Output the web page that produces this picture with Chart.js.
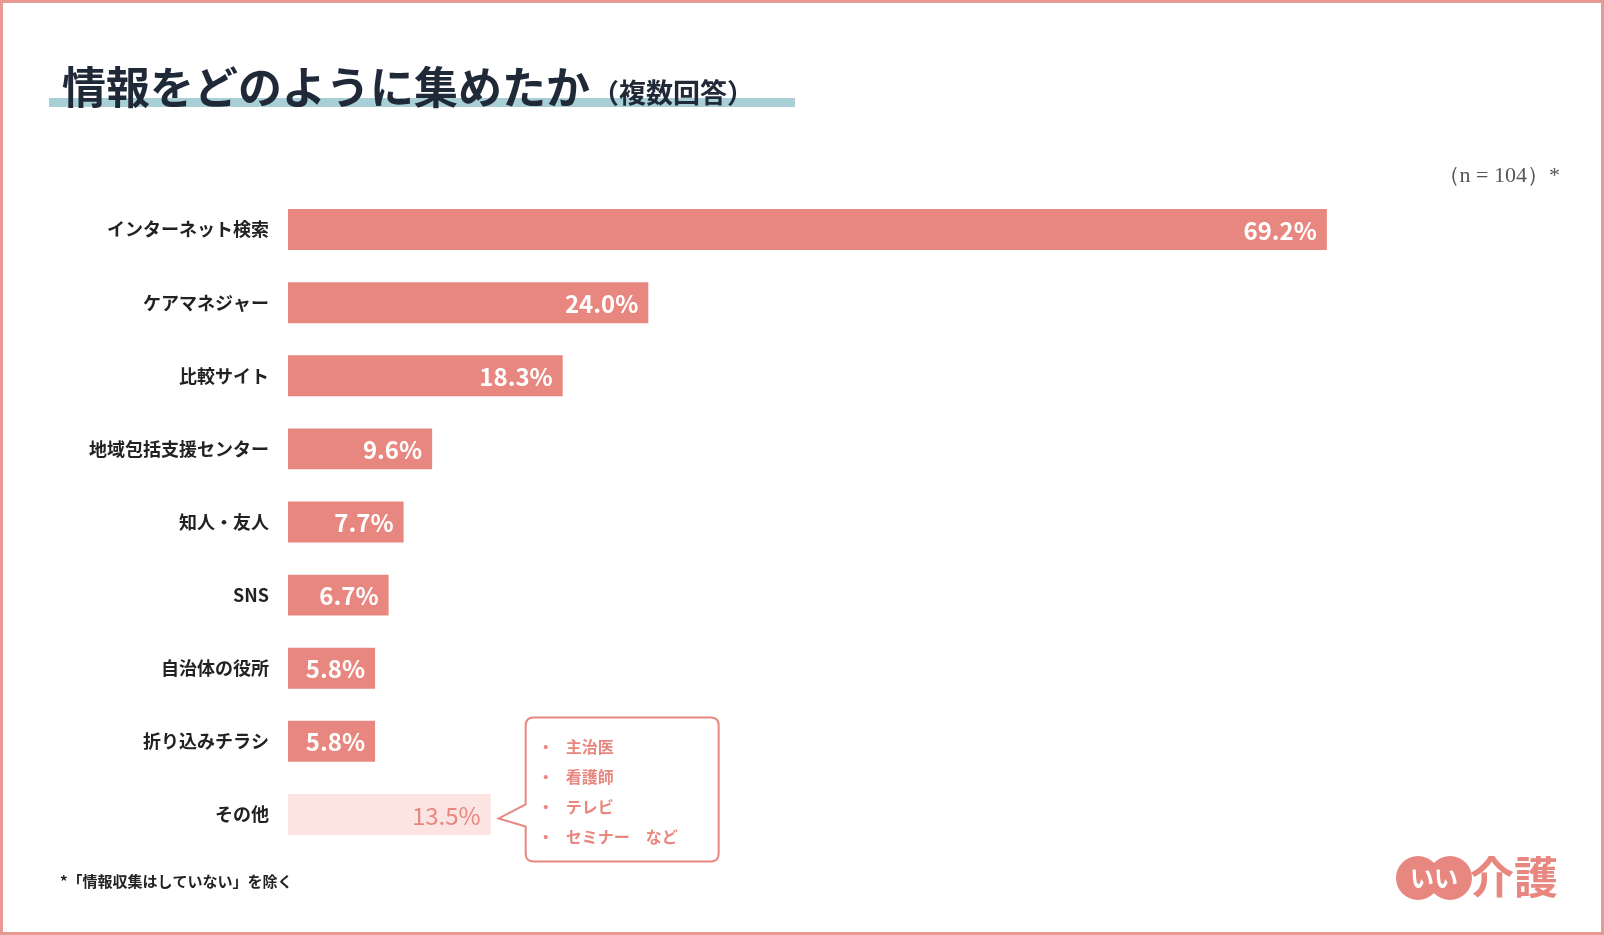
<!DOCTYPE html>
<html><head><meta charset="utf-8">
<script src="https://cdn.jsdelivr.net/npm/chart.js@4"></script>
<style>html,body{margin:0;background:#fff}canvas{display:block}</style>
</head><body>
<canvas id="c" width="1604" height="935"></canvas>
<script>
const categories = ["インターネット検索","ケアマネジャー","比較サイト","地域包括支援センター","知人・友人","SNS","自治体の役所","折り込みチラシ","その他"];
const values = [69.2, 24.0, 18.3, 9.6, 7.7, 6.7, 5.8, 5.8, 13.5];
const otherNotes = ["主治医","看護師","テレビ","セミナー　など"];

const PINK = "#e8877f", LIGHT = "#fbe4e2";
const FONT = "'Noto Sans CJK JP', 'Noto Sans', sans-serif";

const decor = {
  id: "decor",
  beforeDraw(chart) {
    const c = chart.ctx;
    c.save();
    c.fillStyle = "#fff"; c.fillRect(0, 0, 1604, 935);
    c.strokeStyle = "#e69a93"; c.lineWidth = 3; c.strokeRect(1.5, 1.5, 1601, 932);
    c.fillStyle = "#a7cfd5"; c.fillRect(49, 98, 746, 9);
    c.fillStyle = "#1f2937"; c.textBaseline = "alphabetic";
    c.font = "bold 44px " + FONT; c.fillText("情報をどのように集めたか", 62, 104);
    const w = c.measureText("情報をどのように集めたか").width;
    c.font = "bold 27px " + FONT; c.fillText("（複数回答）", 62 + w + 2, 103);
    c.fillStyle = "#555"; c.font = "22px 'Liberation Serif', serif"; c.textAlign = "right";
    c.fillText("（n = 104）*", 1560, 182);
    c.textAlign = "left"; c.fillStyle = "#222"; c.font = "bold 15px " + FONT;
    c.fillText("*「情報収集はしていない」を除く", 60, 887);
    // logo
    c.fillStyle = PINK;
    c.beginPath(); c.arc(1418, 878, 22, 0, Math.PI * 2); c.fill();
    c.beginPath(); c.arc(1450, 878, 22, 0, Math.PI * 2); c.fill();
    c.fillStyle = "#fff"; c.font = "bold 24px " + FONT; c.textAlign = "center";
    c.fillText("いい", 1434, 887);
    c.fillStyle = PINK; c.font = "bold 44px " + FONT; c.textAlign = "left";
    c.fillText("介護", 1470, 894);
    c.restore();
  },
  afterDatasetsDraw(chart) {
    const c = chart.ctx;
    const meta = chart.getDatasetMeta(0);
    c.save();
    meta.data.forEach((bar, i) => {
      const last = i === values.length - 1;
      c.fillStyle = last ? PINK : "#fff";
      c.font = (last ? "" : "bold ") + "24px " + FONT;
      c.textAlign = "right"; c.textBaseline = "middle";
      c.fillText(values[i].toFixed(1) + "%", bar.x - 10, bar.y + 1);
    });
    // callout for その他
    const b = meta.data[values.length - 1];
    const x0 = b.x + 35, x1 = x0 + 193, y0 = b.y - 97, y1 = b.y + 47;
    c.strokeStyle = PINK; c.lineWidth = 2; c.fillStyle = "#fff";
    c.beginPath();
    c.moveTo(x0 + 8, y0); c.lineTo(x1 - 8, y0); c.quadraticCurveTo(x1, y0, x1, y0 + 8);
    c.lineTo(x1, y1 - 8); c.quadraticCurveTo(x1, y1, x1 - 8, y1);
    c.lineTo(x0 + 8, y1); c.quadraticCurveTo(x0, y1, x0, y1 - 8);
    c.lineTo(x0, b.y + 12); c.lineTo(b.x + 8, b.y + 4); c.lineTo(x0, b.y - 10);
    c.lineTo(x0, y0 + 8); c.quadraticCurveTo(x0, y0, x0 + 8, y0);
    c.closePath(); c.fill(); c.stroke();
    c.fillStyle = PINK; c.font = "bold 16px " + FONT; c.textAlign = "left"; c.textBaseline = "middle";
    otherNotes.forEach((t, i) => {
      const y = y0 + 29 + i * 30;
      c.fillText("・", x0 + 12, y);
      c.fillText(t, x0 + 40, y);
    });
    c.restore();
  }
};

new Chart(document.getElementById("c"), {
  type: "bar",
  data: {
    labels: categories,
    datasets: [{
      data: values,
      backgroundColor: values.map((v, i) => i === values.length - 1 ? LIGHT : PINK),
      categoryPercentage: 1, barPercentage: 0.56
    }]
  },
  options: {
    indexAxis: "y", responsive: false, animation: false,
    layout: { padding: { top: 193, bottom: 84, right: 115, left: 0 } },
    plugins: { legend: { display: false }, tooltip: { enabled: false } },
    scales: {
      x: { min: 0, max: 80, display: false },
      y: {
        grid: { display: false }, border: { display: false },
        afterFit(s) { s.width = 288; },
        ticks: { color: "#222", padding: 11, font: { family: FONT, size: 18, weight: "bold" } }
      }
    }
  },
  plugins: [decor]
});
</script>
</body></html>
